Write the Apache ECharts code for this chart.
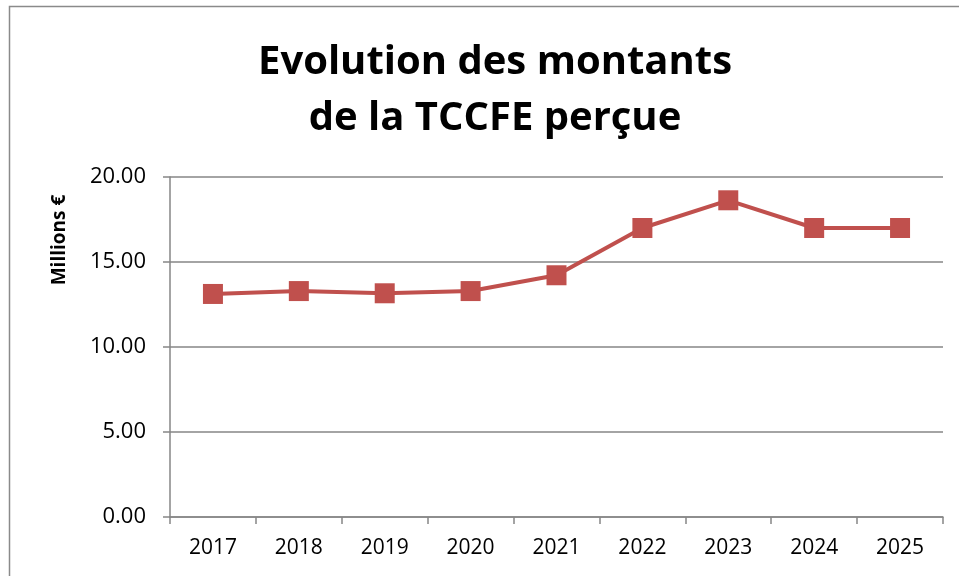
<!DOCTYPE html>
<html>
<head>
<meta charset="utf-8">
<script src="https://cdn.jsdelivr.net/npm/echarts@6/dist/echarts.min.js"></script>
<style>
  html, body { margin: 0; padding: 0; background: #fff; }
  #chart { width: 959px; height: 576px; }
</style>
</head>
<body>
<div id="chart"></div>
<script>
var years = ['2017', '2018', '2019', '2020', '2021', '2022', '2023', '2024', '2025'];
var montants = [13.12, 13.29, 13.16, 13.29, 14.22, 17.0, 18.63, 17.0, 17.0];
var titleText = 'Evolution des montants\nde la TCCFE perçue';
var yName = 'Millions €';

var myChart = echarts.init(document.getElementById('chart'));

var option = {
    backgroundColor: '#fff',
    graphic: [{
        type: 'rect',
        shape: { x: 9.5, y: 6.5, width: 1000, height: 600 },
        style: { fill: 'none', stroke: '#8a8a8a', lineWidth: 1.5 },
        silent: true
    }, {
        // axis title, placed beside the upper part of the axis as in the original
        type: 'text',
        x: 60,
        y: 240,
        rotation: Math.PI / 2,
        style: {
            text: yName,
            fontFamily: 'Open Sans',
            fontWeight: 'bold',
            fontSize: 19,
            fill: '#000',
            align: 'center',
            verticalAlign: 'middle'
        },
        silent: true
    }],
    title: {
        text: titleText,
        left: 490,
        top: 30,
        textAlign: 'center',
        textStyle: {
            fontFamily: 'Open Sans',
            fontWeight: 'bold',
            fontSize: 40,
            lineHeight: 56,
            color: '#000'
        }
    },
    grid: {
        left: 170,
        right: 16,
        top: 177,
        bottom: 59
    },
    xAxis: {
        type: 'category',
        data: years,
        boundaryGap: true,
        axisLine: { lineStyle: { color: '#868686', width: 1.5 } },
        axisTick: { show: true, length: 7, lineStyle: { color: '#868686', width: 1.5 } },
        axisLabel: {
            margin: 21,
            fontFamily: 'Open Sans',
            fontSize: 21,
            color: '#000'
        }
    },
    yAxis: {
        type: 'value',
        min: 0,
        max: 20,
        interval: 5,
        axisLine: { show: true, lineStyle: { color: '#868686', width: 1.5 } },
        axisTick: { show: true, length: 7, lineStyle: { color: '#868686', width: 1.5 } },
        splitLine: { lineStyle: { color: '#868686', width: 1.5 } },
        axisLabel: {
            margin: 24,
            fontFamily: 'Open Sans',
            fontSize: 22,
            color: '#000',
            formatter: function (v) { return v.toFixed(2); }
        }
    },
    series: [{
        type: 'line',
        data: montants,
        symbol: 'rect',
        symbolSize: 20,
        lineStyle: { color: '#C0504D', width: 4 },
        itemStyle: { color: '#C0504D' },
        animation: false
    }]
};

myChart.setOption(option);
</script>
</body>
</html>
